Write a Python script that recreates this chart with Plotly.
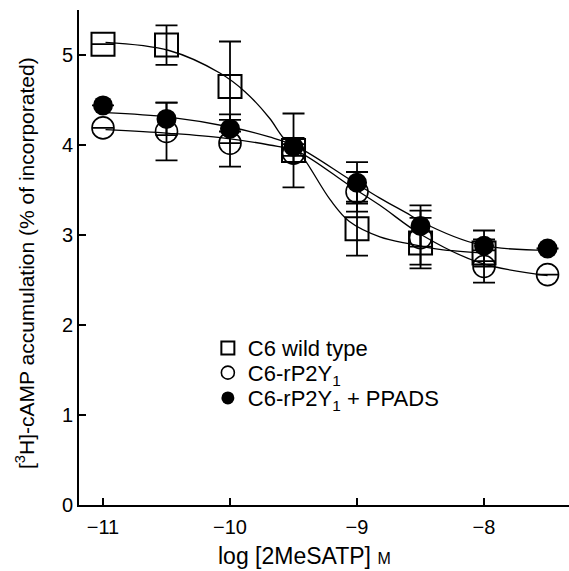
import plotly.graph_objects as go

# Data
log_conc = [-11, -10.5, -10, -9.5, -9, -8.5, -8]
log_conc_r = [-11, -10.5, -10, -9.5, -9, -8.5, -8, -7.5]

wt_mean = [5.12, 5.11, 4.65, 3.94, 3.07, 2.91, 2.80]
wt_err = [0.0, 0.22, 0.50, 0.41, 0.30, 0.28, 0.15]

rp_mean = [4.19, 4.15, 4.02, 3.91, 3.48, 2.97, 2.65, 2.56]
rp_err = [0.0, 0.32, 0.26, 0.10, 0.22, 0.30, 0.18, 0.0]

pp_mean = [4.44, 4.29, 4.18, 3.98, 3.58, 3.10, 2.88, 2.85]
pp_err = [0.0, 0.18, 0.16, 0.10, 0.23, 0.23, 0.17, 0.0]

# Fitted curves, points
wt_curve_x = [-10.98, -10.48, -10.08, -9.88, -9.69, -9.58, -9.45, -9.21, -9.06, -8.82, -8.58, -8.35, -8.0]
wt_curve_y = [5.14, 5.05, 4.80, 4.59, 4.30, 4.08, 3.91, 3.39, 3.15, 2.98, 2.90, 2.84, 2.80]

rp_curve_x = [-10.98, -10.48, -10.06, -9.69, -9.47, -9.06, -8.82, -8.49, -8.03, -7.5]
rp_curve_y = [4.17, 4.13, 4.08, 4.00, 3.93, 3.55, 3.33, 3.00, 2.69, 2.55]

pp_curve_x = [-10.98, -10.48, -10.0, -9.69, -9.47, -9.06, -8.82, -8.58, -8.5, -8.03, -7.5]
pp_curve_y = [4.36, 4.31, 4.20, 4.09, 3.98, 3.62, 3.41, 3.22, 3.15, 2.89, 2.83]

series_names = ["C6 wild type", "C6-rP2Y<sub>1</sub>", "C6-rP2Y<sub>1</sub> + PPADS"]

x_ticks = [-11, -10, -9, -8]
y_ticks = [0, 1, 2, 3, 4, 5]

FONT = "Liberation Sans, Arial, Helvetica, sans-serif"
BLACK = "#000000"

fig = go.Figure()

for cx, cy in [(wt_curve_x, wt_curve_y), (rp_curve_x, rp_curve_y), (pp_curve_x, pp_curve_y)]:
    fig.add_trace(go.Scatter(x=cx, y=cy, mode="lines",
                             line=dict(color=BLACK, width=1.3, shape="spline", smoothing=1.0),
                             showlegend=False, hoverinfo="skip"))

eb = dict(type="data", color=BLACK, thickness=1.8, width=11)

wt_marker = dict(symbol="square-open", color=BLACK, line=dict(width=2, color=BLACK))
rp_marker = dict(symbol="circle-open", color=BLACK, line=dict(width=1.6, color=BLACK))
pp_marker = dict(symbol="circle", color=BLACK, line=dict(width=0, color=BLACK))

fig.add_trace(go.Scatter(x=log_conc, y=wt_mean, mode="markers", showlegend=False,
                         error_y=dict(array=wt_err, **eb), marker=dict(size=23, **wt_marker)))
fig.add_trace(go.Scatter(x=log_conc_r, y=rp_mean, mode="markers", showlegend=False,
                         error_y=dict(array=rp_err, **eb), marker=dict(size=22, **rp_marker)))
fig.add_trace(go.Scatter(x=log_conc_r, y=pp_mean, mode="markers", showlegend=False,
                         error_y=dict(array=pp_err, **eb), marker=dict(size=20, **pp_marker)))

# legend-only keys, one legend per line
legend_ids = ["legend", "legend2", "legend3"]
for name, mk, lg in zip(series_names, [wt_marker, rp_marker, pp_marker], legend_ids):
    fig.add_trace(go.Scatter(x=[None], y=[None], mode="markers", name=name, legend=lg,
                             marker=dict(size=13, **mk)))

leg_common = dict(x=0.263, xanchor="left", yanchor="middle", bgcolor="rgba(0,0,0,0)",
                  font=dict(size=22, family=FONT, color=BLACK), itemsizing="trace")

fig.update_layout(
    width=569, height=571,
    margin=dict(l=79, r=0, t=10, b=66),
    paper_bgcolor="white", plot_bgcolor="white",
    font=dict(family=FONT, size=20, color=BLACK),
    legend=dict(y=0.317, **leg_common),
    legend2=dict(y=0.267, **leg_common),
    legend3=dict(y=0.216, **leg_common),
    xaxis=dict(range=[-11.189, -7.331], tickvals=x_ticks, ticks="inside", ticklen=7, tickwidth=1.5,
               tickcolor=BLACK, showline=True, linecolor=BLACK, linewidth=1.8, showgrid=False,
               zeroline=False, tickfont=dict(size=20), ticklabelstandoff=3, automargin=False),
    yaxis=dict(range=[0, 5.5], tickvals=y_ticks, ticks="inside", ticklen=7, tickwidth=1.5,
               tickcolor=BLACK, showline=True, linecolor=BLACK, linewidth=1.8, showgrid=False,
               zeroline=False, tickfont=dict(size=20), ticklabelstandoff=0, automargin=False),
    annotations=[
        dict(text='log [2MeSATP] <span style="font-size:16px">M</span>', xref="paper", yref="paper",
             x=(304 - 79) / 490, y=(505 - 556) / 495, xanchor="center", yanchor="middle",
             showarrow=False, font=dict(size=23)),
        dict(text="[<sup>3</sup>H]-cAMP accumulation (% of incorporated)", xref="paper", yref="paper",
             x=(25 - 79) / 490, y=(505 - 263) / 495, xanchor="center", yanchor="middle",
             textangle=-90, showarrow=False, font=dict(size=21)),
    ],
)

fig.write_html("out.html", config={"displayModeBar": False},
               post_script="document.body.style.margin='0px';document.body.style.overflow='hidden';")
